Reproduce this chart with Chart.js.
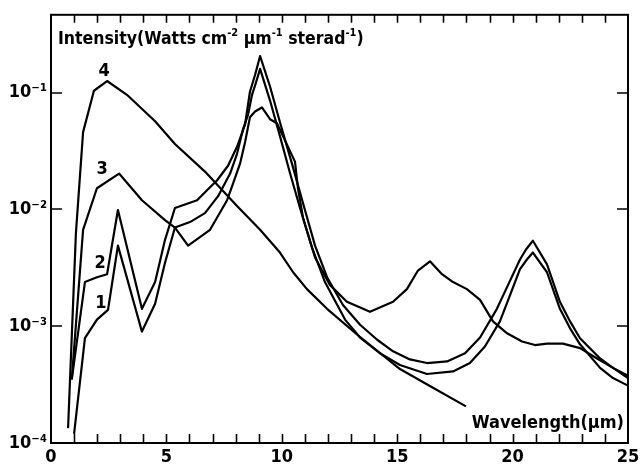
<!DOCTYPE html>
<html><head><meta charset="utf-8">
<script src="https://cdn.jsdelivr.net/npm/chart.js@4/dist/chart.umd.min.js"></script>
<style>html,body{margin:0;padding:0;background:#fff}</style>
</head><body>
<canvas id="c" width="644" height="468"></canvas>
<script>
// ---- data (wavelength in µm, intensity in W cm^-2 µm^-1 sterad^-1) ----
const curve1X = [1.0, 1.47, 1.99, 2.47, 2.9, 3.94, 4.51, 4.94, 5.37, 6.02, 6.67, 7.24, 7.76, 8.06, 8.32, 8.54, 8.71, 8.88, 9.06, 9.49, 9.92, 10.36, 10.79, 11.31, 11.87, 12.74, 13.39, 14.25, 15.12, 16.29, 17.42, 18.15, 18.8, 19.45, 19.89, 20.32, 20.62, 20.88, 21.49, 22.05, 22.49, 22.92, 23.79, 24.35, 25.0];
const curve1Y = [1.2e-4, 7.9e-4, 0.00114, 0.00138, 0.0049, 9.0e-4, 0.00156, 0.0035, 0.0070, 0.0078, 0.0093, 0.013, 0.0203, 0.030, 0.0487, 0.065, 0.096, 0.122, 0.16, 0.0857, 0.0425, 0.0203, 0.0103, 0.00472, 0.00239, 0.00114, 8.0e-4, 5.87e-4, 4.66e-4, 3.9e-4, 4.1e-4, 4.84e-4, 6.7e-4, 0.0011, 0.00185, 0.00308, 0.00373, 0.00428, 0.0029, 0.00141, 9.6e-4, 7.0e-4, 4.4e-4, 3.6e-4, 3.1e-4];

const curve2X = [0.9, 1.47, 1.99, 2.43, 2.9, 3.94, 4.51, 4.94, 5.37, 6.33, 6.76, 7.19, 7.67, 8.06, 8.41, 8.62, 8.84, 9.06, 9.49, 9.92, 10.44, 10.92, 11.44, 11.96, 12.65, 13.39, 14.12, 14.82, 15.55, 16.29, 17.16, 17.94, 18.59, 19.32, 19.8, 20.32, 20.58, 20.88, 21.49, 22.05, 22.49, 22.92, 23.79, 24.35, 25.0];
const curve2Y = [3.5e-4, 0.00239, 0.00263, 0.00279, 0.0099, 0.00141, 0.00239, 0.0055, 0.0103, 0.0120, 0.0146, 0.0177, 0.0237, 0.0344, 0.0537, 0.102, 0.142, 0.206, 0.113, 0.0558, 0.0247, 0.0113, 0.0049, 0.00263, 0.00152, 0.00103, 7.7e-4, 6.1e-4, 5.2e-4, 4.84e-4, 5.0e-4, 5.87e-4, 8.0e-4, 0.00141, 0.00225, 0.00373, 0.00454, 0.0054, 0.00339, 0.00162, 0.0011, 7.9e-4, 5.3e-4, 4.4e-4, 3.6e-4];

const curve3X = [0.9, 1.39, 1.99, 2.95, 3.94, 4.94, 5.37, 5.94, 6.89, 7.63, 7.89, 8.19, 8.41, 8.62, 8.84, 9.14, 9.49, 9.79, 10.57, 10.70, 10.92, 11.44, 12.09, 12.82, 13.82, 14.82, 15.42, 15.9, 16.42, 16.94, 17.42, 18.02, 18.59, 19.15, 19.76, 20.41, 20.97, 21.49, 22.18, 22.92, 23.66, 24.35, 25.0];
const curve3Y = [3.5e-4, 0.0067, 0.0152, 0.0203, 0.0120, 0.0081, 0.0070, 0.0049, 0.0067, 0.0120, 0.0167, 0.0247, 0.0378, 0.0617, 0.069, 0.0748, 0.0593, 0.0548, 0.0257, 0.0152, 0.00845, 0.00388, 0.00225, 0.00162, 0.00133, 0.00162, 0.00208, 0.0030, 0.0036, 0.00279, 0.00239, 0.00208, 0.00168, 0.0011, 8.7e-4, 7.4e-4, 6.9e-4, 7.1e-4, 7.1e-4, 6.5e-4, 5.3e-4, 4.4e-4, 3.76e-4];

const curve4X = [0.74, 1.08, 1.39, 1.86, 2.43, 3.29, 4.51, 5.37, 6.67, 8.06, 9.06, 9.92, 10.49, 11.09, 11.96, 13.26, 15.12, 16.55, 17.98];
const curve4Y = [1.34e-4, 6.3e-3, 0.046, 0.104, 0.126, 0.096, 0.057, 0.0364, 0.0211, 0.0107, 0.0067, 0.00428, 0.0029, 0.00208, 0.00141, 8.5e-4, 4.3e-4, 2.97e-4, 2.06e-4];

const seriesNames = ['1', '2', '3', '4'];
const xTickValues = [0, 5, 10, 15, 20, 25];
const yTickValues = [1e-4, 1e-3, 1e-2, 1e-1];
const yTickLabels = ['10\u207B\u2074', '10\u207B\u00B3', '10\u207B\u00B2', '10\u207B\u00B9'];
const yTitleParts = [['Intensity(Watts cm', false], ['-2', true], [' \u00B5m', false], ['-1', true], [' sterad', false], ['-1', true], [')', false]];
const xTitle = 'Wavelength(\u00B5m)';

// ---- presentation ----
const FONT_FAMILY = "'DejaVu Sans Condensed', 'DejaVu Sans', sans-serif";
const xs = [curve1X, curve2X, curve3X, curve4X];
const ys = [curve1Y, curve2Y, curve3Y, curve4Y];
// label anchor (index into series) and pixel offset
const labelAnchor = [{i: 3, dx: -7, dy: -7}, {i: 3, dx: -7, dy: -11}, {i: 3, dx: -17, dy: -4}, {i: 4, dx: -3, dy: -10}];

const datasets = seriesNames.map((n, k) => ({
  label: n,
  data: xs[k].map((x, j) => ({x: x, y: ys[k][j]})),
  borderColor: '#000', borderWidth: 2.2, pointRadius: 0, tension: 0, fill: false,
  borderJoinStyle: 'round'
}));

const framePlugin = {
  id: 'frame',
  afterDraw(chart) {
    const ctx = chart.ctx, a = chart.chartArea, sx = chart.scales.x, sy = chart.scales.y;
    ctx.save();
    ctx.strokeStyle = '#000'; ctx.lineWidth = 2;
    ctx.strokeRect(a.left, a.top, a.right - a.left, a.bottom - a.top);
    ctx.lineWidth = 1.6;
    ctx.beginPath();
    for (let v = sx.min + 1; v < sx.max; v++) {
      const px = Math.round(sx.getPixelForValue(v)) + 0.5;
      ctx.moveTo(px, a.bottom); ctx.lineTo(px, a.bottom - 9);
      ctx.moveTo(px, a.top); ctx.lineTo(px, a.top + 8);
    }
    yTickValues.forEach(v => {
      const py = Math.round(sy.getPixelForValue(v));
      if (py >= a.bottom - 1) return;
      ctx.moveTo(a.left, py); ctx.lineTo(a.left + 11, py);
      ctx.moveTo(a.right, py); ctx.lineTo(a.right - 11, py);
    });
    ctx.stroke();
    // axis titles
    ctx.fillStyle = '#000';
    ctx.textBaseline = 'alphabetic';
    let x = a.left + 7;
    const base = a.top + 29;
    yTitleParts.forEach(([t, sup]) => {
      ctx.font = sup ? 'bold 11px ' + FONT_FAMILY : 'bold 17.5px ' + FONT_FAMILY;
      ctx.fillText(t, x, sup ? base - 8 : base);
      x += ctx.measureText(t).width;
    });
    ctx.font = 'bold 18px ' + FONT_FAMILY;
    ctx.textAlign = 'right';
    ctx.fillText(xTitle, a.right - 4, a.bottom - 15);
    // curve labels
    ctx.textAlign = 'center'; ctx.textBaseline = 'middle';
    labelAnchor.forEach((l, k) => {
      const px = sx.getPixelForValue(xs[k][l.i]), py = sy.getPixelForValue(ys[k][l.i]);
      ctx.fillText(seriesNames[k], px + l.dx, py + l.dy);
    });
    ctx.restore();
  }
};

new Chart(document.getElementById('c'), {
  type: 'line',
  data: {datasets},
  options: {
    responsive: false, animation: false, devicePixelRatio: 1,
    layout: {padding: {top: 9, right: 16, left: 0, bottom: 0}},
    plugins: {legend: {display: false}, tooltip: {enabled: false}},
    scales: {
      x: {
        type: 'linear', min: 0, max: 25,
        afterBuildTicks(s) { s.ticks = xTickValues.map(v => ({value: v})); },
        afterFit(s) { s.height = 25; },
        ticks: {color: '#000', padding: 4, maxRotation: 0, autoSkip: false, font: {family: FONT_FAMILY, size: 18, weight: 'bold'}},
        grid: {display: false, drawTicks: false}, border: {display: false}
      },
      y: {
        type: 'logarithmic', min: 1e-4, max: 0.465,
        afterBuildTicks(s) { s.ticks = yTickValues.map(v => ({value: v})); },
        afterFit(s) { s.width = 51; },
        ticks: {color: '#000', padding: 4, autoSkip: false, font: {family: FONT_FAMILY, size: 18, weight: 'bold'},
          callback: (v, i) => yTickLabels[i]},
        grid: {display: false, drawTicks: false}, border: {display: false}
      }
    }
  },
  plugins: [framePlugin]
});
</script>
</body></html>
